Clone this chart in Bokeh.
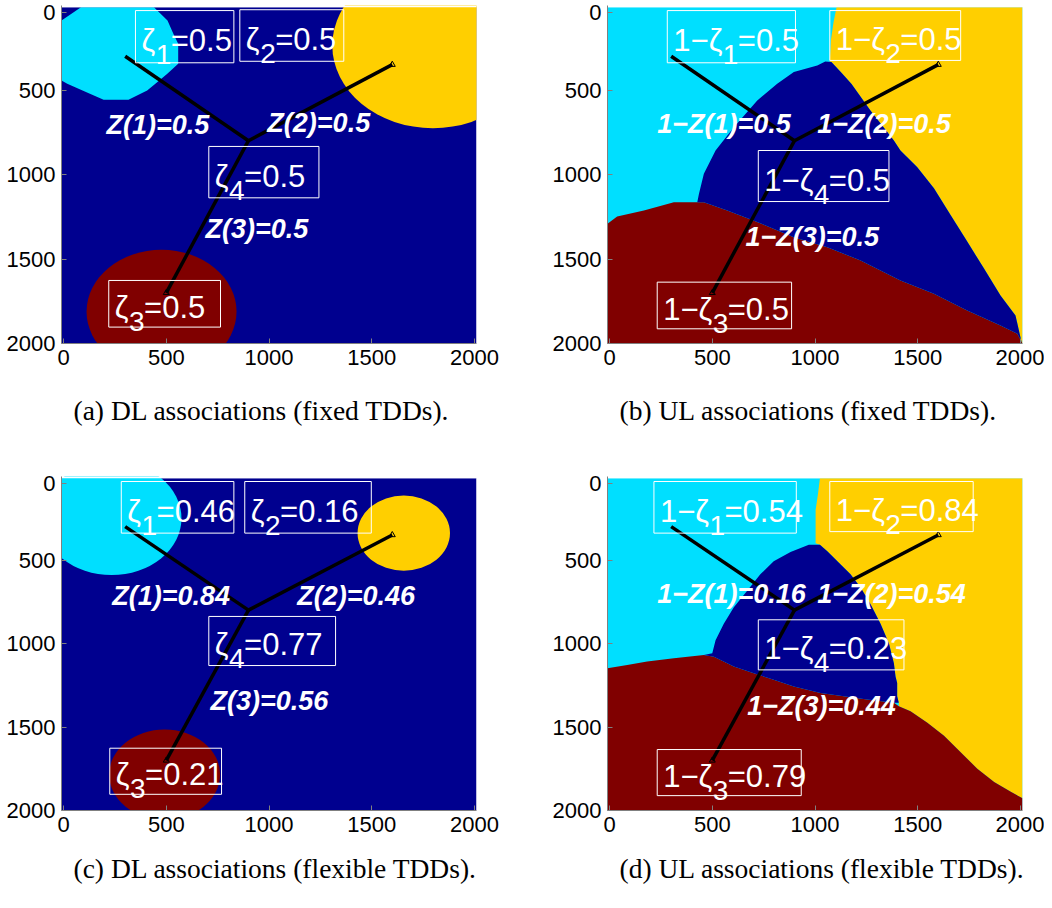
import numpy as np
from bokeh.plotting import figure
from bokeh.models import Range1d, Title, FixedTicker
from bokeh.layouts import column, row
from bokeh.core.properties import value
from bokeh.embed import file_html
from bokeh.resources import INLINE

# ---------------- data ----------------
C_MACRO = "#00008F"
C_BS1 = "#00DFFF"
C_BS2 = "#FFCF00"
C_BS3 = "#800000"

X_TICKS = [0, 500, 1000, 1500, 2000]
# the top "0" label sits a little below the axis end, as in the original
Y_TICKS = [40, 500, 1000, 1500, 2000]
Y_TICK_LABELS = {40: "0", 500: "500", 1000: "1000", 1500: "1500", 2000: "2000"}

BS_X = [300, 1600, 500]
BS_Y = [300, 350, 1700]
HUB_X = [900, 900, 900]
HUB_Y = [800, 800, 800]

ZETA_FIXED = [0.5, 0.5, 0.5, 0.5]     # zeta_1..zeta_4
ZETA_FLEX = [0.46, 0.16, 0.21, 0.77]
Z_FIXED = [0.5, 0.5, 0.5]             # Z(1)..Z(3)
Z_FLEX = [0.84, 0.46, 0.56]

CAPTIONS = ["(a) DL associations (fixed TDDs).",
            "(b) UL associations (fixed TDDs).",
            "(c) DL associations (flexible TDDs).",
            "(d) UL associations (flexible TDDs)."]

# (a) DL fixed: BS1 region outline, BS2 / BS3 discs
A_BS1_X = [-10, 85, 440, 506, 535, 558, 558, 505, 447, 407, 316, 195, 131, 18, -10]
A_BS1_Y = [89, 10, 10, 89, 168, 227, 345, 404, 463, 503, 558, 558, 523, 463, 444]
A_DISC_X = [1798, 477]
A_DISC_Y = [236, 1811]
A_DISC_R = [490, 365]

# (c) DL flexible: BS1, BS2, BS3 discs
C_DISC_X = [234, 1656, 492]
C_DISC_Y = [250, 339, 1785]
C_DISC_R = [340, 225, 270]

# (b) UL fixed: region outlines
B_MAC_X = [1050, 1011, 897, 816, 719, 605, 516, 459, 435, 427,
           459, 573, 700, 897, 1060, 1222, 1416, 1579, 1741, 1903, 1985, 2005,
           1976, 1903, 1822, 1741, 1660, 1579, 1498, 1416, 1384, 1270, 1178, 1130, 1080]
B_MAC_Y = [331, 355, 394, 463, 562, 720, 858, 996, 1115, 1164,
           1164, 1213, 1272, 1371, 1430, 1509, 1627, 1706, 1805, 1893, 1943, 1990,
           1834, 1716, 1555, 1397, 1239, 1081, 957, 858, 799, 621, 464, 400, 335]
B_RED_X = [-10, 37, 167, 313, 427, 459, 573, 700, 897, 1060, 1222, 1416, 1579,
           1741, 1903, 1985, 2010, -10]
B_RED_Y = [1292, 1249, 1213, 1164, 1164, 1164, 1213, 1272, 1371, 1430, 1509, 1627,
           1706, 1805, 1893, 1943, 2000, 2000]
B_YEL_X = [1105, 2010, 2010, 2005, 1976, 1903, 1822, 1741, 1660, 1579, 1498, 1416,
           1384, 1270, 1178, 1130, 1080, 1072, 1078, 1090]
B_YEL_Y = [10, 10, 2000, 1990, 1834, 1716, 1555, 1397, 1239, 1081, 957, 858,
           799, 621, 464, 400, 335, 331, 200, 100]

# (d) UL flexible: region outlines
D_MAC_X = [970, 881, 799, 734, 670, 605, 556, 516, 500, 459,
           508, 605, 702, 799, 897, 1027, 1140, 1254, 1384, 1408,
           1400, 1400, 1392, 1384, 1360, 1319, 1270, 1222, 1173, 1125, 1060, 1024]
D_MAC_Y = [408, 452, 507, 586, 684, 783, 882, 980, 1059, 1069,
           1079, 1138, 1178, 1217, 1257, 1296, 1316, 1336, 1355, 1355,
           1316, 1236, 1197, 1118, 1000, 882, 763, 665, 586, 527, 448, 408]
D_RED_X = [-10, 86, 183, 313, 459, 508, 605, 702, 799, 897, 1027, 1140, 1254, 1384,
           1408, 1465, 1547, 1628, 1709, 1790, 1872, 1953, 2010, 2010, -10]
D_RED_Y = [1148, 1128, 1108, 1089, 1069, 1079, 1138, 1178, 1217, 1257, 1296, 1316,
           1336, 1355, 1375, 1405, 1474, 1553, 1651, 1750, 1829, 1888, 1927, 2000, 2000]
D_YEL_X = [1024, 2010, 2010, 1953, 1872, 1790, 1709, 1628, 1547, 1465, 1408, 1408,
           1400, 1400, 1392, 1384, 1360, 1319, 1270, 1222, 1173, 1125, 1060, 1024,
           1003, 1003, 1015]
D_YEL_Y = [10, 10, 1927, 1888, 1829, 1750, 1651, 1553, 1474, 1405, 1375, 1355,
           1316, 1236, 1197, 1118, 1000, 882, 763, 665, 586, 527, 448, 408,
           400, 200, 100]

# label boxes, order zeta_1, zeta_2, zeta_3, zeta_4
BOX_A = dict(l=[350, 858, 220, 707], r=[829, 1364, 764, 1243], t=[30, 25, 1627, 834], b=[339, 330, 1903, 1138])
BOX_B = dict(l=[281, 1072, 232, 724], r=[905, 1709, 886, 1360], t=[30, 30, 1637, 858], b=[339, 325, 1913, 1160])
BOX_C = dict(l=[281, 882, 225, 707], r=[829, 1498, 769, 1324], t=[30, 30, 1627, 838], b=[339, 339, 1903, 1132])
BOX_D = dict(l=[216, 1072, 232, 724], r=[909, 1770, 933, 1433], t=[30, 30, 1635, 858], b=[339, 330, 1911, 1158])

# link-label anchors (left x, middle y), order Z(1), Z(2), Z(3)
ZLAB_A = dict(x=[209, 992, 691], y=[710, 698, 1322])
ZLAB_B = dict(x=[232, 1011, 662], y=[700, 700, 1371])
ZLAB_C = dict(x=[237, 1137, 715], y=[714, 714, 1345])
ZLAB_D = dict(x=[232, 1011, 670], y=[704, 704, 1375])

# ---------------- drawing ----------------
F_MAIN = 31
F_SUB = 28
F_Z = 27


def fmt(v):
    return f"{round(v, 2):g}"


def panel(width, height, right_border, bottom_border, caption, cap_standoff):
    p = figure(width=width, height=height, title=None,
               x_range=Range1d(-10, 2010), y_range=Range1d(2000, 0),
               output_backend="svg", toolbar_location=None,
               min_border_left=61, min_border_right=right_border,
               min_border_top=12, min_border_bottom=bottom_border)
    p.grid.visible = False
    p.outline_line_color = None
    p.background_fill_color = "white"
    p.xaxis.ticker = FixedTicker(ticks=X_TICKS)
    p.yaxis.ticker = FixedTicker(ticks=Y_TICKS)
    p.yaxis.major_label_overrides = Y_TICK_LABELS
    for ax in (p.xaxis, p.yaxis):
        ax.axis_line_color = "#808080"
        ax.axis_line_width = 1
        ax.major_tick_in = 5
        ax.major_tick_out = 0
        ax.major_tick_line_color = "#808080"
        ax.minor_tick_line_color = None
        ax.major_label_text_font = "Liberation Sans"
        ax.major_label_text_font_size = "22px"
        ax.major_label_text_color = "black"
    p.xaxis.major_label_standoff = 6
    p.yaxis.major_label_standoff = 6
    p.add_layout(Title(text=caption, align="left", offset=12, standoff=cap_standoff,
                       text_font="Liberation Serif", text_font_size="27.5px",
                       text_font_style="normal", text_color="black"), "below")
    return p


def background(p, color):
    p.quad(left=[-10], right=[2010], top=[10], bottom=[2000], fill_color=color, line_color=None)


def finish(p, box, zlab, zeta, zvals, uplink):
    # white strip above the map
    p.quad(left=[-10], right=[2010], top=[0], bottom=[10], fill_color="white", line_color=None)
    # links from macro to small cells
    p.segment(x0=HUB_X, y0=HUB_Y, x1=BS_X, y1=BS_Y, line_color="black", line_width=3.5)
    p.scatter(x=BS_X[1:], y=BS_Y[1:], marker="triangle", size=6, fill_color=None,
              line_color="black", line_width=1)
    # boxes
    p.quad(left=box["l"], right=box["r"], top=box["t"], bottom=box["b"],
           fill_color=None, line_color="white", line_width=1)
    base = [t + 0.58 * (b - t) for t, b in zip(box["t"], box["b"])]
    prefix = "1\u2212\u03b6" if uplink else "\u03b6"
    w_pre = (49.5 if uplink else 14.3)
    vals = [fmt(1 - v) if uplink else fmt(v) for v in zeta]
    p.text(x=box["l"], y=base, text=[prefix] * 4, x_offset=6,
           text_font=value("Liberation Sans"), text_font_size=f"{F_MAIN}px",
           text_color="white", text_baseline="alphabetic", text_align="left")
    p.text(x=box["l"], y=base, text=["1", "2", "3", "4"], x_offset=6 + w_pre, y_offset=14,
           text_font=value("Liberation Sans"), text_font_size=f"{F_SUB}px",
           text_color="white", text_baseline="alphabetic", text_align="left")
    p.text(x=box["l"], y=base, text=["=" + v for v in vals], x_offset=6 + w_pre + 15,
           text_font=value("Liberation Sans"), text_font_size=f"{F_MAIN}px",
           text_color="white", text_baseline="alphabetic", text_align="left")
    zpre = "1\u2212Z" if uplink else "Z"
    ztxt = [f"{zpre}({i})=" + (fmt(1 - v) if uplink else fmt(v)) for i, v in zip([1, 2, 3], zvals)]
    p.text(x=zlab["x"], y=zlab["y"], text=ztxt,
           text_font=value("Liberation Sans"), text_font_size=f"{F_Z}px",
           text_font_style="bold italic", text_color="white",
           text_baseline="middle", text_align="left")


# (a)
pa = panel(546, 471, 70, 121, CAPTIONS[0], 50)
background(pa, C_MACRO)
pa.patch(A_BS1_X, A_BS1_Y, fill_color=C_BS1, line_color=None)
pa.ellipse(x=A_DISC_X, y=A_DISC_Y, width=[2 * r for r in A_DISC_R], height=[2 * r for r in A_DISC_R],
           fill_color=[C_BS2, C_BS3], line_color=None)
finish(pa, BOX_A, ZLAB_A, ZETA_FIXED, Z_FIXED, False)

# (b)
pb = panel(498, 471, 22, 121, CAPTIONS[1], 50)
background(pb, C_BS1)
pb.patch(B_YEL_X, B_YEL_Y, fill_color=C_BS2, line_color=None)
pb.patch(B_RED_X, B_RED_Y, fill_color=C_BS3, line_color=None)
pb.patch(B_MAC_X, B_MAC_Y, fill_color=C_MACRO, line_color=None)
finish(pb, BOX_B, ZLAB_B, ZETA_FIXED, Z_FIXED, True)

# (c)
pc = panel(546, 436, 70, 86, CAPTIONS[2], 33)
background(pc, C_MACRO)
pc.ellipse(x=C_DISC_X, y=C_DISC_Y, width=[2 * r for r in C_DISC_R], height=[2 * r for r in C_DISC_R],
           fill_color=[C_BS1, C_BS2, C_BS3], line_color=None)
finish(pc, BOX_C, ZLAB_C, ZETA_FLEX, Z_FLEX, False)

# (d)
pd_ = panel(498, 436, 22, 86, CAPTIONS[3], 33)
background(pd_, C_BS1)
pd_.patch(D_YEL_X, D_YEL_Y, fill_color=C_BS2, line_color=None)
pd_.patch(D_RED_X, D_RED_Y, fill_color=C_BS3, line_color=None)
pd_.patch(D_MAC_X, D_MAC_Y, fill_color=C_MACRO, line_color=None)
finish(pd_, BOX_D, ZLAB_D, ZETA_FLEX, Z_FLEX, True)

layout = column(row(pa, pb), row(pc, pd_), margin=(-7, 0, 0, 0))

open("out.html", "w").write(file_html(layout, INLINE))
